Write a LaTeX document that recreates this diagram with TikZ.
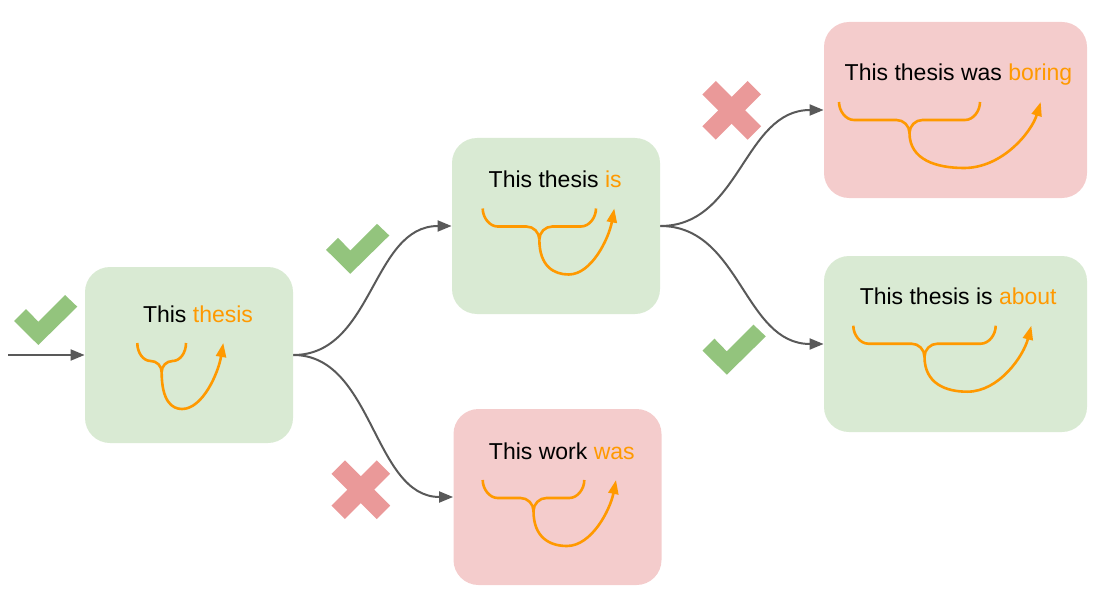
\documentclass[tikz,border=0pt]{standalone}
\usepackage{fontspec}
\setmainfont{Liberation Sans}
\usepackage{xcolor}
\usetikzlibrary{arrows.meta}
\definecolor{okfill}{HTML}{D9EAD3}
\definecolor{badfill}{HTML}{F4CCCC}
\definecolor{hl}{HTML}{FF9900}
\definecolor{okgreen}{HTML}{93C47D}
\definecolor{badred}{HTML}{EA9999}
\definecolor{wiregray}{HTML}{595959}
\tikzset{
  okbox/.style={fill=okfill, rounded corners=12.5pt,
    minimum width=104pt, minimum height=88pt},
  badbox/.style={okbox, fill=badfill},
  word/.style={anchor=base, inner sep=0pt,
    font=\fontsize{11.5}{13.8}\selectfont},
  wire/.style={-{Triangle[length=7pt,width=5.5pt]}, wiregray, line width=1pt},
  brace/.style={draw=hl, line width=1.3pt},
  bracetip/.style={brace, -{Triangle[length=7pt,width=5pt]}}
}
\newcommand{\hlw}[1]{\textcolor{hl}{#1}}
% #1 left, #2 right, #3 top, #4 loop bottom x, #5 tip x
\newcommand{\wordbrace}[5]{%
  \pgfmathsetmacro{\brc}{(#1+#2)/2}%
  \pgfmathsetmacro{\brh}{#3+18}%
  \pgfmathsetmacro{\brb}{#3+66}%
  \pgfmathsetmacro{\bro}{min(15,0.55*(\brc-#1))}%
  \pgfmathsetmacro{\bri}{min(13,0.45*(\brc-#1))}%
  \draw[brace] (#1,#3) .. controls (#1,\brh-0.6*\bro) and (#1+0.45*\bro,\brh) .. (#1+\bro,\brh)
    -- (\brc-\bri,\brh) .. controls (\brc-0.45*\bri,\brh) and (\brc,\brh+0.45*\bri) .. (\brc,\brh+\bri);
  \draw[brace] (#2,#3) .. controls (#2,\brh-0.6*\bro) and (#2-0.45*\bro,\brh) .. (#2-\bro,\brh)
    -- (\brc+\bri,\brh) .. controls (\brc+0.45*\bri,\brh) and (\brc,\brh+0.45*\bri) .. (\brc,\brh+\bri);
  \draw[bracetip] (\brc,\brh+\bri) .. controls (\brc,\brb-8) and ({(\brc+#4)/2},\brb) .. (#4,\brb)
    .. controls ({(#4+#5)/2},\brb) and ({#5-0.12*(#5-#4)},{#3+30}) .. (#5,#3);
}
\newcommand{\okmark}[1]{%
  \fill[okgreen, shift={#1}] (-31.7,1) -- (-19.7,-11) -- (-7.4,1.7)
    -- (19.3,-25) -- (31.6,-13.3) -- (-7.4,25) -- cycle;}
\newcommand{\badmark}[1]{%
  \fill[badred, shift={#1}, rotate=45] (-32,-9.5) rectangle (32,9.5);
  \fill[badred, shift={#1}, rotate=-45] (-32,-9.5) rectangle (32,9.5);}

\begin{document}
\begin{tikzpicture}[x=0.5pt, y=-0.5pt]
  \useasboundingbox (0,0) rectangle (1103,610);

  \node[okbox] (b1) at (189,355) {};
  \node[okbox] (b2) at (556,226) {};
  \node[badbox] (b3) at (557.5,497) {};
  \node[badbox, minimum width=131.5pt] (b4) at (955.5,110) {};
  \node[okbox, minimum width=131.5pt] (b5) at (955.5,344) {};

  \node[word] (t1) at (198,322) {This \hlw{thesis}};
  \node[word] (t2) at (555.2,187.3) {This thesis \hlw{is}};
  \node[word] (t3) at (561.8,459) {This work \hlw{was}};
  \node[word] (t4) at (958.5,80.3) {This thesis was \hlw{boring}};
  \node[word] (t5) at (958.2,304.3) {This thesis is \hlw{about}};

  \wordbrace{137.3}{186}{343}{182}{223.3}
  \wordbrace{482.7}{596}{208.5}{568.7}{614.3}
  \wordbrace{482.7}{584.3}{480}{567}{616}
  \wordbrace{839}{980}{102}{964}{1040.7}
  \wordbrace{853.3}{995.7}{325.7}{967.3}{1031.3}

  \coordinate (start) at (8,355);
  \draw[wire] (start) -- (b1);
  \draw[wire] (b1.east) .. controls +(80,0) and +(-80,0) .. (b2.west);
  \draw[wire] (b1.east) .. controls +(80,0) and +(-80,0) .. (b3.west);
  \draw[wire] (b2.east) .. controls +(80,0) and +(-80,0) .. (b4.west);
  \draw[wire] (b2.east) .. controls +(80,0) and +(-80,0) .. (b5.west);

  \okmark{(45.7,320)}
  \okmark{(357.7,248.8)}
  \okmark{(734.2,349.7)}
  \badmark{(360.8,489.7)}
  \badmark{(731.7,110.3)}
\end{tikzpicture}
\end{document}
